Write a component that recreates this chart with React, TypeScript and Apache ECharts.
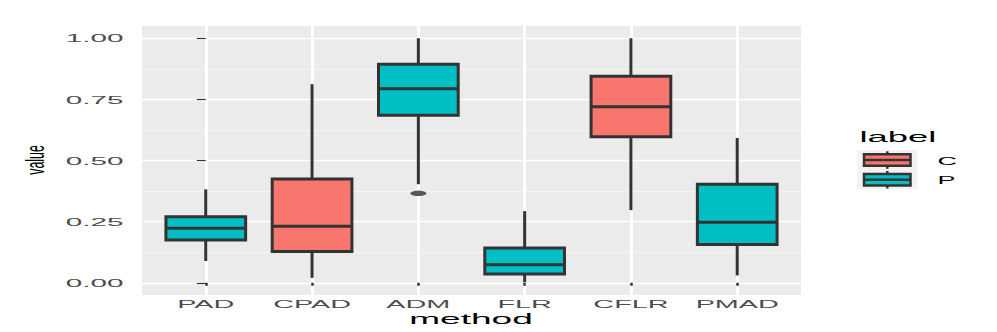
import React, { useEffect, useRef } from "react";
import * as echarts from "echarts";

const categories = ["PAD", "CPAD", "ADM", "FLR", "CFLR", "PMAD"];
const groups = ["P", "C", "P", "P", "C", "P"];
const whiskerLow = [0.089, 0.02, 0.403, 0.002, 0.297, 0.03];
const q1 = [0.175, 0.128, 0.685, 0.036, 0.597, 0.157];
const medians = [0.223, 0.231, 0.793, 0.074, 0.72, 0.248];
const q3 = [0.27, 0.424, 0.894, 0.142, 0.845, 0.403];
const whiskerHigh = [0.382, 0.812, 1.0, 0.293, 1.0, 0.592];
const outliers: [number, number][] = [[2, 0.366]];
const yTicks = [0, 0.25, 0.5, 0.75, 1];
const yTickLabels = ["0.00", "0.25", "0.50", "0.75", "1.00"];
const yMinorTicks = [0.125, 0.375, 0.625, 0.875];
const legendLabels = ["C", "P"];
const groupColors: Record<string, string> = { C: "#F8766D", P: "#00BFC4" };

const FONT = "'Liberation Sans', Arial, Helvetica, sans-serif";
const DARK = "#333333";
const Y_MIN = -0.05;
const Y_MAX = 1.05;
const X_MIN = -0.6;
const X_MAX = categories.length - 1 + 0.6;

function textStyle(text: string, size: number, fill: string, align: string, valign: string) {
  return {
    text,
    fill,
    textFill: fill,
    fontSize: size,
    fontFamily: FONT,
    align,
    textAlign: align,
    verticalAlign: valign,
    textVerticalAlign: valign,
  };
}

export default function App() {
  const ref = useRef<HTMLDivElement>(null);

  useEffect(() => {
    if (!ref.current) return;
    const chart = echarts.init(ref.current, undefined, { renderer: "svg" });

    const boxSeries = legendLabels.map((g) => ({
      type: "custom",
      name: g,
      data: categories
        .map((_, i) =>
          groups[i] === g ? [i, whiskerLow[i], q1[i], medians[i], q3[i], whiskerHigh[i]] : null
        )
        .filter((d) => d !== null),
      encode: { x: 0, y: [1, 2, 3, 4, 5] },
      renderItem: (_params: any, api: any) => {
        const idx = api.value(0);
        const cx = api.coord([idx, 0])[0];
        const ys = [1, 2, 3, 4, 5].map((d) => api.coord([idx, api.value(d)])[1]);
        const w = api.size([0.75, 0])[0];
        return {
          type: "group",
          children: [
            { type: "line", shape: { x1: cx, y1: ys[0], x2: cx, y2: ys[1] }, style: { stroke: DARK, lineWidth: 3 } },
            { type: "line", shape: { x1: cx, y1: ys[3], x2: cx, y2: ys[4] }, style: { stroke: DARK, lineWidth: 3 } },
            {
              type: "rect",
              shape: { x: cx - w / 2, y: ys[3], width: w, height: ys[1] - ys[3] },
              style: { fill: groupColors[g], stroke: DARK, lineWidth: 3 },
            },
            { type: "line", shape: { x1: cx - w / 2, y1: ys[2], x2: cx + w / 2, y2: ys[2] }, style: { stroke: DARK, lineWidth: 3 } },
          ],
        };
      },
    }));

    const xLabelSeries = {
      type: "custom",
      silent: true,
      clip: false,
      data: categories.map((_, i) => [i, Y_MIN]),
      encode: { x: 0, y: 1 },
      renderItem: (params: any, api: any) => {
        const pt = api.coord([api.value(0), Y_MIN]);
        return {
          type: "text",
          x: pt[0],
          y: pt[1] + 9.5,
          scaleX: 2.62,
          style: textStyle(categories[params.dataIndex], 11, "#4D4D4D", "center", "middle"),
        };
      },
    };

    const yLabelSeries = {
      type: "custom",
      silent: true,
      clip: false,
      data: yTicks.map((v) => [X_MIN, v]),
      encode: { x: 0, y: 1 },
      renderItem: (params: any, api: any) => {
        const pt = api.coord([X_MIN, api.value(1)]);
        return {
          type: "text",
          x: pt[0] - 18.5,
          y: pt[1] + 0.5,
          scaleX: 2.7,
          style: textStyle(yTickLabels[params.dataIndex], 11, "#4D4D4D", "right", "middle"),
        };
      },
    };

    const outlierSeries = {
      type: "scatter",
      data: outliers,
      symbol: "circle",
      symbolSize: [16, 5.5],
      itemStyle: { color: DARK },
      silent: true,
    };

    const legendKeys: any[] = [];
    const keyTops = [154.3, 174];
    legendLabels.forEach((g, k) => {
      const top = keyTops[k];
      const h = 11.5;
      legendKeys.push(
        { type: "line", shape: { x1: 887.3, y1: top - 3, x2: 887.3, y2: top }, style: { stroke: DARK, lineWidth: 2.5 } },
        { type: "line", shape: { x1: 887.3, y1: top + h, x2: 887.3, y2: top + h + 3 }, style: { stroke: DARK, lineWidth: 2.5 } },
        { type: "rect", shape: { x: 864, y: top, width: 46.5, height: h }, style: { fill: groupColors[g], stroke: DARK, lineWidth: 2.5 } },
        { type: "line", shape: { x1: 864, y1: top + h / 2, x2: 910.5, y2: top + h / 2 }, style: { stroke: DARK, lineWidth: 2.5 } },
        { type: "text", x: 937.5, y: top + h / 2 + 0.5, scaleX: 2.45, style: textStyle(g, 11, "#000000", "left", "middle") }
      );
    });

    const option: any = {
      animation: false,
      backgroundColor: "#ffffff",
      grid: {
        left: 142,
        right: 196,
        top: 26,
        bottom: 37,
        show: true,
        backgroundColor: "#EBEBEB",
        borderWidth: 0,
      },
      xAxis: {
        type: "value",
        min: X_MIN,
        max: X_MAX,
        axisLine: { show: false },
        axisTick: {
          show: true,
          customValues: categories.map((_, i) => i),
          length: 3,
          lineStyle: { color: DARK, width: 2.5 },
        },
        axisLabel: { show: false },
        splitLine: { show: true, lineStyle: { color: "#ffffff", width: 3 } },
      },
      yAxis: [
        {
          type: "value",
          min: Y_MIN,
          max: Y_MAX,
          axisLine: { show: false },
          axisTick: { show: true, customValues: yTicks, length: 9, lineStyle: { color: DARK, width: 1.1 } },
          axisLabel: { show: false },
          splitLine: { show: true, lineStyle: { color: "#ffffff", width: 1.4 } },
        },
        {
          type: "value",
          min: Y_MIN,
          max: Y_MAX,
          position: "left",
          axisLine: { show: false },
          axisTick: { show: false, customValues: yMinorTicks },
          axisLabel: { show: false },
          splitLine: { show: true, lineStyle: { color: "#F7F7F7", width: 0.8 } },
        },
      ],
      graphic: [
        {
          type: "text",
          x: 471,
          y: 319,
          scaleX: 2.56,
          style: textStyle("method", 14.5, "#000000", "center", "middle"),
        },
        {
          type: "text",
          x: 35.5,
          y: 160,
          rotation: Math.PI / 2,
          scaleX: 0.95,
          scaleY: 2.0,
          style: textStyle("value", 13, "#000000", "center", "middle"),
        },
        {
          type: "text",
          x: 859.5,
          y: 137.5,
          scaleX: 2.6,
          style: textStyle("label", 14, "#000000", "left", "middle"),
        },
        {
          type: "rect",
          shape: { x: 857.3, y: 150, width: 60, height: 39.3 },
          style: { fill: "#F2F2F2" },
          z: 0,
        },
        ...legendKeys.map((e) => ({ ...e, z: 1 })),
      ],
      series: [...boxSeries, outlierSeries, xLabelSeries, yLabelSeries],
    };

    chart.setOption(option);
    return () => chart.dispose();
  }, []);

  return (
    <div
      ref={ref}
      style={{ position: "fixed", left: 0, top: 0, width: 997, height: 332, background: "#ffffff" }}
    />
  );
}
